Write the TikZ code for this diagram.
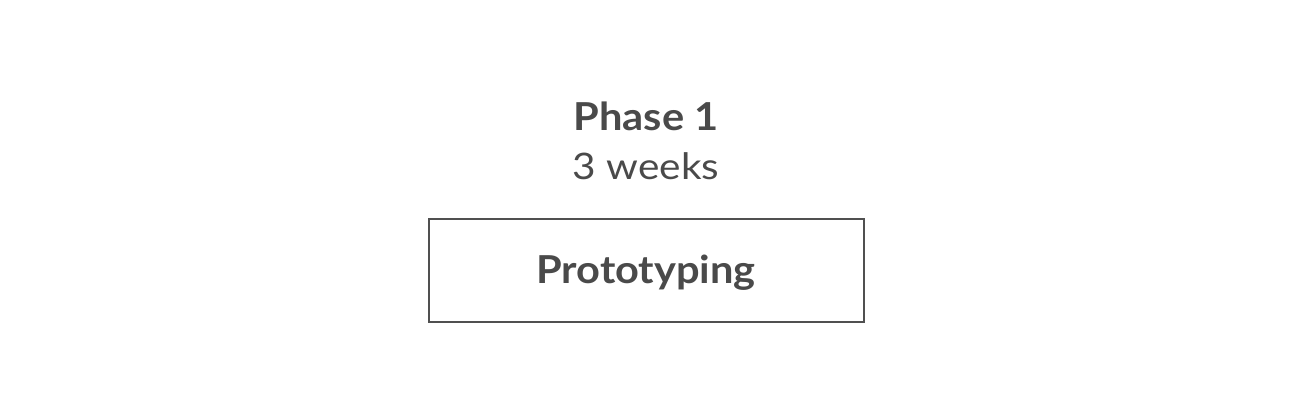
\documentclass[tikz,border=0pt]{standalone}
\usepackage{fontspec}
\setmainfont{Lato}
\newfontfamily\boldwide[FakeStretch=1.08]{Lato Bold}
\newfontfamily\regwide[FakeStretch=1.11]{Lato}
\definecolor{ink}{HTML}{4A4A4A}
\definecolor{boxline}{HTML}{505050}
\begin{document}
\begin{tikzpicture}[x=1pt,y=-1pt,
  title/.style={text=ink,font=\fontsize{38.5}{40}\boldwide,anchor=base,inner sep=0},
  sub/.style={text=ink,font=\fontsize{36.5}{40}\regwide,anchor=base,inner sep=0},
  stagebox/.style={draw=boxline,line width=2pt}]
\useasboundingbox (0,0) rectangle (1292,417);
\node[title] (phase) at (646,130.7) {Phase 1};
\node[sub] (weeks) at (646,179.3) {3 weeks};
\draw[stagebox] (428.5,218.5) rectangle (863.5,321.5);
\node[title] (proto) at (646,283.3) {Prototyping};
\end{tikzpicture}
\end{document}
